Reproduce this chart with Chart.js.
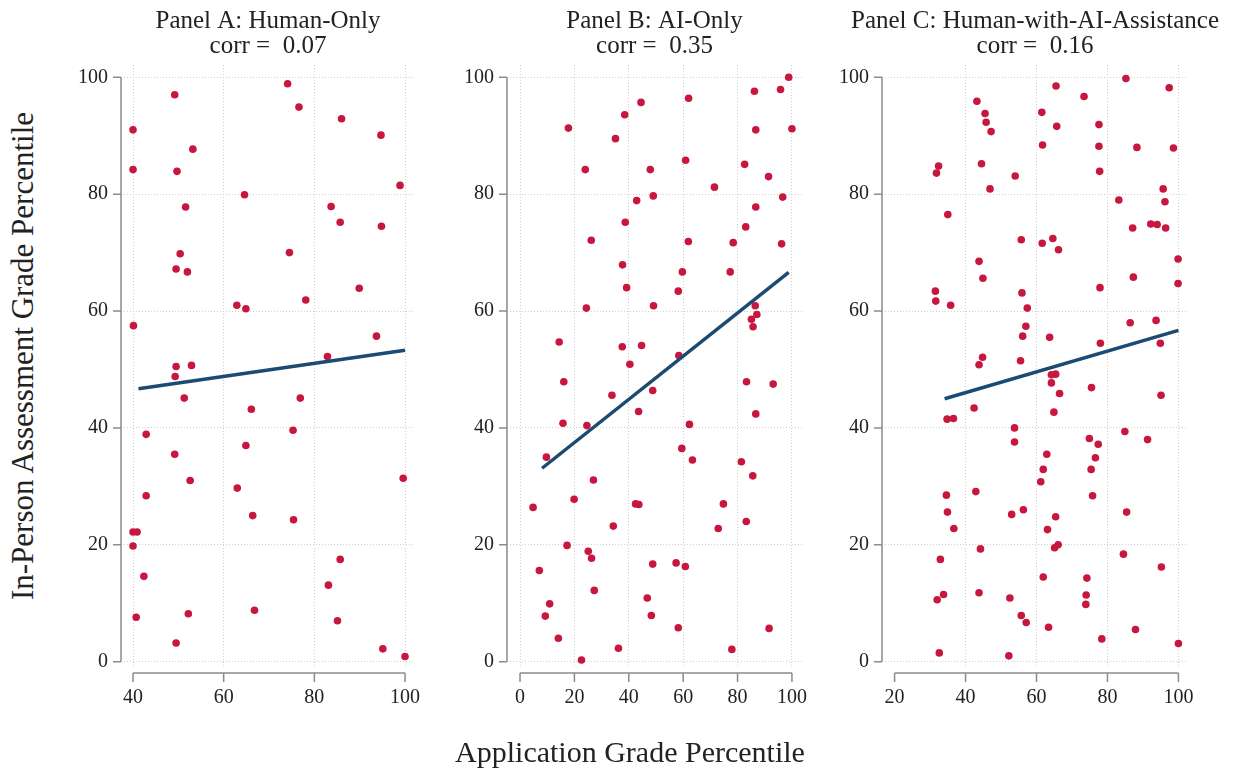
<!DOCTYPE html>
<html>
<head>
<meta charset="utf-8">
<script src="https://cdn.jsdelivr.net/npm/chart.js@4.4.1/dist/chart.umd.min.js"></script>
<style>
  body { margin: 0; background: #fff; }
  #wrap { position: relative; width: 1238px; height: 774px; overflow: hidden; font-family: "Liberation Serif", "DejaVu Serif", serif; color: #222; }
  canvas { position: absolute; top: 0; }
  .axis-title { position: absolute; font-size: 30px; line-height: 34px; white-space: nowrap; }
  #xTitle { left: 630px; top: 735px; transform: translateX(-50%); }
  #yTitle { left: 23px; top: 356px; transform: translate(-50%, -50%) rotate(-90deg); font-size: 31px; }
</style>
</head>
<body>
<div id="wrap">
  <canvas id="panelA" width="414" height="725" style="left:61px"></canvas>
  <canvas id="panelB" width="415" height="725" style="left:447px"></canvas>
  <canvas id="panelC" width="426" height="725" style="left:822px"></canvas>
  <div class="axis-title" id="xTitle">Application Grade Percentile</div>
  <div class="axis-title" id="yTitle">In-Person Assessment Grade Percentile</div>
</div>
<script>
// Panel titles and correlations
const panelTitles = ["Panel A: Human-Only", "Panel B: AI-Only", "Panel C: Human-with-AI-Assistance"];
const corrValues = ["0.07", "0.35", "0.16"];

// Tick labels
const yTicks = [0, 20, 40, 60, 80, 100];
const xTicksA = [40, 60, 80, 100];
const xTicksB = [0, 20, 40, 60, 80, 100];
const xTicksC = [20, 40, 60, 80, 100];

// Panel A: Human-Only
const appGradeA = [49.2, 40.0, 53.2, 40.0, 49.7, 74.1, 76.6, 86.0, 94.7, 98.9, 64.6, 51.6, 83.7, 85.7, 94.8, 50.4, 74.5, 49.5, 52.0, 89.9,
  62.9, 64.9, 78.1, 40.1, 93.7, 82.9, 49.5, 52.9, 49.3, 51.3, 66.1, 76.9, 42.9, 75.3, 49.2, 64.9, 52.6, 63.0, 42.9, 99.6,
  66.4, 75.4, 40.0, 40.9, 40.0, 42.4, 85.7, 83.1, 40.7, 52.2, 66.8, 85.1, 49.5, 95.1, 100.0];
const assessGradeA = [97.0, 91.0, 87.7, 84.2, 83.9, 98.9, 94.9, 92.9, 90.1, 81.5, 79.9, 77.8, 77.9, 75.2, 74.5, 69.8, 70.0, 67.2, 66.7, 63.9,
  61.0, 60.4, 61.9, 57.5, 55.7, 52.2, 50.5, 50.7, 48.8, 45.1, 43.2, 45.1, 38.9, 39.6, 35.5, 37.0, 31.0, 29.7, 28.4, 31.4,
  25.0, 24.3, 22.2, 22.2, 19.8, 14.6, 17.5, 13.1, 7.6, 8.2, 8.8, 7.0, 3.2, 2.2, 0.9];
const fitXA = [41.2, 100.0];
const fitYA = [46.7, 53.3];

// Panel B: AI-Only
const appGradeB = [98.8, 86.2, 95.8, 62.0, 44.5, 38.5, 17.8, 86.7, 100.0, 35.1, 60.9, 24.0, 47.9, 82.6, 91.4, 71.5, 49.0, 42.9, 96.6, 86.7,
  38.7, 83.0, 26.2, 61.9, 78.4, 96.2, 37.7, 59.7, 77.3, 39.2, 58.2, 24.4, 49.1, 86.5, 85.1, 87.1, 85.7, 14.4, 37.6, 44.7,
  58.4, 40.4, 16.1, 33.8, 48.8, 83.3, 93.1, 43.6, 86.7, 15.8, 24.6, 62.3, 9.7, 59.5, 63.4, 81.4, 85.6, 27.0, 19.9, 4.8,
  42.5, 43.7, 74.8, 34.3, 72.9, 83.2, 17.3, 25.1, 26.3, 48.8, 57.4, 60.8, 7.1, 27.3, 46.8, 10.9, 9.3, 48.3, 58.2, 91.6,
  14.1, 36.2, 77.9, 22.6];
const assessGradeB = [100.0, 97.6, 97.9, 96.4, 95.7, 93.6, 91.3, 91.0, 91.2, 89.5, 85.8, 84.2, 84.2, 85.1, 83.0, 81.2, 79.7, 78.9, 79.5, 77.8,
  75.2, 74.4, 72.1, 71.9, 71.7, 71.5, 67.9, 66.7, 66.7, 64.0, 63.4, 60.5, 60.9, 60.9, 58.6, 59.4, 57.3, 54.7, 53.9, 54.1,
  52.4, 50.9, 47.9, 45.6, 46.4, 47.9, 47.5, 42.8, 42.4, 40.8, 40.4, 40.6, 35.0, 36.5, 34.5, 34.2, 31.8, 31.1, 27.8, 26.4,
  27.0, 26.9, 27.0, 23.2, 22.8, 24.0, 19.9, 18.9, 17.7, 16.7, 16.9, 16.3, 15.6, 12.2, 10.9, 9.9, 7.8, 7.9, 5.8, 5.7,
  4.0, 2.3, 2.1, 0.3];
const fitXB = [8.1, 98.8];
const fitYB = [33.1, 66.6];

// Panel C: Human-with-AI-Assistance
const appGradeC = [85.2, 65.5, 97.4, 73.4, 43.2, 61.5, 45.5, 45.8, 47.2, 65.7, 77.6, 61.7, 77.6, 88.3, 98.6, 32.4, 31.8, 44.5, 54.0, 77.8,
  46.9, 95.7, 83.2, 96.2, 35.0, 92.2, 94.0, 87.1, 96.4, 55.7, 61.6, 64.6, 66.2, 43.8, 99.9, 44.9, 87.3, 99.9, 77.9, 31.5,
  31.6, 35.8, 55.9, 57.4, 57.0, 56.1, 63.7, 86.4, 93.7, 78.0, 94.9, 44.8, 43.8, 55.5, 64.2, 65.4, 64.2, 66.5, 75.5, 95.1,
  42.4, 64.9, 34.8, 36.6, 53.8, 53.8, 84.9, 91.3, 74.9, 77.4, 76.6, 62.9, 61.9, 75.4, 61.2, 42.9, 34.6, 75.8, 34.9, 53.0,
  56.3, 65.4, 85.4, 36.7, 63.1, 65.1, 66.1, 44.2, 84.5, 32.9, 95.2, 61.9, 74.2, 43.8, 32.0, 33.8, 52.5, 74.0, 73.9, 55.7,
  57.1, 63.4, 87.9, 78.4, 100.0, 32.6, 52.2];
const assessGradeC = [99.8, 98.5, 98.2, 96.7, 95.9, 94.0, 93.8, 92.3, 90.7, 91.6, 91.9, 88.4, 88.2, 88.0, 87.9, 84.8, 83.6, 85.2, 83.1, 83.9,
  80.9, 80.9, 79.0, 78.7, 76.5, 74.9, 74.8, 74.2, 74.2, 72.2, 71.6, 72.4, 70.5, 68.5, 68.9, 65.6, 65.8, 64.7, 64.0, 63.4,
  61.7, 61.0, 63.1, 60.5, 57.4, 55.7, 55.5, 58.0, 58.4, 54.5, 54.5, 52.1, 50.8, 51.5, 49.1, 49.2, 47.7, 45.9, 46.9, 45.6,
  43.4, 42.7, 41.5, 41.6, 40.0, 37.6, 39.4, 38.0, 38.2, 37.2, 34.9, 35.5, 32.9, 32.9, 30.8, 29.1, 28.5, 28.4, 25.6, 25.2,
  26.0, 24.8, 25.6, 22.8, 22.6, 19.5, 20.0, 19.3, 18.4, 17.5, 16.2, 14.5, 14.3, 11.8, 10.6, 11.5, 10.9, 11.4, 9.8, 7.9,
  6.7, 5.9, 5.5, 3.9, 3.1, 1.5, 1.0];
const fitXC = [34.1, 100.0];
const fitYC = [45.0, 56.7];

// Styles
const FONT = '"Liberation Serif", "DejaVu Serif", serif';
const dotColor = '#c8173f';
const fitColor = '#1b4a73';
const gridColor = '#cfcfcf';
const axisColor = '#8c8c8c';

function toPoints(xs, ys) {
  return xs.map((x, i) => ({ x: x, y: ys[i] }));
}

// Stata-style axes: lines only span the tick range, x axis sits a little below the plot
const axisLines = {
  id: 'axisLines',
  afterDraw(chart) {
    const { ctx, chartArea, scales } = chart;
    const x = scales.x, y = scales.y;
    const xv = x.ticks.map(t => t.value);
    const yv = y.ticks.map(t => t.value);
    const left = chartArea.left;
    const base = chartArea.bottom + 5;
    ctx.save();
    ctx.strokeStyle = axisColor;
    ctx.lineWidth = 1.5;
    ctx.beginPath();
    ctx.moveTo(left, y.getPixelForValue(yv[0]));
    ctx.lineTo(left, y.getPixelForValue(yv[yv.length - 1]));
    yv.forEach(v => {
      const py = y.getPixelForValue(v);
      ctx.moveTo(left - 8, py);
      ctx.lineTo(left, py);
    });
    ctx.moveTo(x.getPixelForValue(xv[0]), base);
    ctx.lineTo(x.getPixelForValue(xv[xv.length - 1]), base);
    xv.forEach(v => {
      const px = x.getPixelForValue(v);
      ctx.moveTo(px, base);
      ctx.lineTo(px, base + 9);
    });
    ctx.stroke();
    ctx.restore();
  }
};

function makePanel(id, idx, xs, ys, fx, fy, xTicks, xMin, xMax, hideGridAt) {
  new Chart(document.getElementById(id), {
    data: {
      datasets: [
        {
          type: 'line',
          data: toPoints(fx, fy),
          borderColor: fitColor,
          borderWidth: 3.5,
          pointRadius: 0,
          fill: false
        },
        {
          type: 'scatter',
          data: toPoints(xs, ys),
          backgroundColor: dotColor,
          borderWidth: 0,
          pointRadius: 3.8
        }
      ]
    },
    options: {
      responsive: false,
      animation: false,
      events: [],
      layout: { padding: 0 },
      plugins: {
        legend: { display: false },
        tooltip: { enabled: false },
        title: {
          display: true,
          text: [panelTitles[idx], 'corr =  ' + corrValues[idx]],
          color: '#222',
          font: { family: FONT, size: 25, weight: 'normal', lineHeight: 1 },
          padding: { top: 9, bottom: 6 }
        }
      },
      scales: {
        x: {
          type: 'linear',
          min: xMin,
          max: xMax,
          afterBuildTicks: s => { s.ticks = xTicks.map(v => ({ value: v })); },
          afterFit: s => { s.height = 57; s.paddingLeft = 0; s.paddingRight = 0; },
          grid: {
            drawTicks: false,
            lineWidth: 1,
            color: c => (c.tick && c.tick.value === hideGridAt) ? 'rgba(0,0,0,0)' : gridColor
          },
          border: { display: false, dash: [1, 2] },
          ticks: { padding: 18, color: '#222', font: { family: FONT, size: 20 }, maxRotation: 0 }
        },
        y: {
          type: 'linear',
          min: -1.08,
          max: 102.1,
          afterBuildTicks: s => { s.ticks = yTicks.map(v => ({ value: v })); },
          afterFit: s => { s.width = 60; s.paddingTop = 0; s.paddingBottom = 0; },
          grid: { drawTicks: false, lineWidth: 1, color: gridColor },
          border: { display: false, dash: [1, 2] },
          ticks: { padding: 13, color: '#222', font: { family: FONT, size: 20 } }
        },
        // empty right-hand axis, only there to keep the panel title centred on the plot
        yRight: {
          type: 'linear',
          position: 'right',
          min: -1.08,
          max: 102.1,
          afterFit: s => { s.width = 60; s.paddingTop = 0; s.paddingBottom = 0; },
          grid: { display: false },
          border: { display: false },
          ticks: { display: false }
        }
      }
    },
    plugins: [axisLines]
  });
}

makePanel('panelA', 0, appGradeA, assessGradeA, fitXA, fitYA, xTicksA, 37.35, 102.2, null);
makePanel('panelB', 1, appGradeB, assessGradeB, fitXB, fitYB, xTicksB, -4.79, 103.7, null);
makePanel('panelC', 2, appGradeC, assessGradeC, fitXC, fitYC, xTicksC, 16.45, 102.7, 20);
</script>
</body>
</html>
